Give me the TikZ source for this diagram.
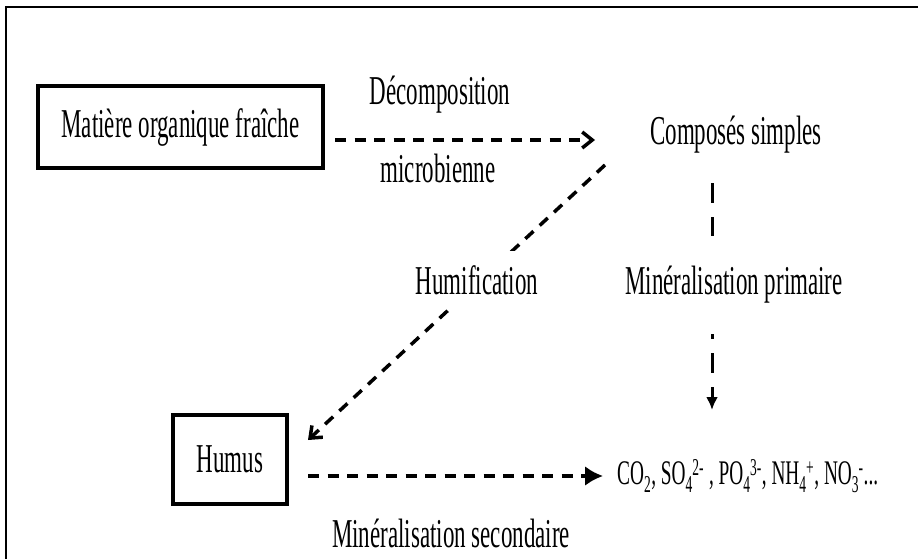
\documentclass[tikz,border=0pt]{standalone}
\usepackage{fontspec}
\setmainfont{Liberation Serif}[FakeStretch=0.56]
\usepackage{amsmath}
\usetikzlibrary{arrows.meta, positioning}

\newcommand{\ionsub}[2]{\textsubscript{#1}\kern-0.5pt\textsuperscript{#2}}

\begin{document}
\begin{tikzpicture}[x=1pt, y=-1pt, font=\fontsize{41}{49}\selectfont]
    \tikzstyle{block} = [rectangle, draw, line width=3.5pt, inner sep=0pt]
    \tikzstyle{dline} = [draw, line width=3.5pt, dash pattern=on 11pt off 8.5pt]
    \tikzstyle{vline} = [draw, line width=3pt, dash pattern=on 20pt off 14pt]
    \tikzstyle{gap} = [fill=white, inner sep=0pt]
    \useasboundingbox (0,0) rectangle (918,559);
    % frame
    \draw [line width=2.5pt] (6,559) -- (6,7) -- (918,7);
    %
    \node [block, minimum width=285pt, minimum height=82pt] (mof) at (180.5,127) {Matière organique fraîche};
    \node (simples) at (736,135) {Composés simples};
    \node [block, minimum width=114pt, minimum height=89pt] (humus) at (230,459.5) {Humus};
    \node [anchor=west, inner sep=0pt, font=\fontsize{34.5}{41}\selectfont] (ions) at (617,476) {CO\textsubscript{2}, SO\ionsub{4}{2-} , PO\ionsub{4}{3-}, NH\ionsub{4}{+}, NO\ionsub{3}{-}...};
    %
    \coordinate (d1) at (335,140);
    \coordinate (d2) at (595,140);
    \path [dline, -{Straight Barb[length=10pt, width=16pt]}] (d1) -- (d2);
    \node (decomp) at (440,95) {Décomposition};
    \node (microb) at (438,168) {microbienne};
    %
    \coordinate (h1) at (605,165);
    \coordinate (h2) at (308,440);
    \path [dline, -{Straight Barb[length=10pt, width=16pt]}] (h1) -- (h2);
    \node [gap, inner xsep=6pt, inner ysep=14pt] (humif) at (477,280) {Humification};
    %
    \coordinate (p1) at (712,183);
    \coordinate (p2) at (712,410);
    \path [vline, -{Latex[length=13pt, width=12pt]}] (p1) -- (p2);
    \node [gap, inner xsep=2pt, inner ysep=30pt] (minp) at (734,285) {Minéralisation primaire};
    %
    \coordinate (s1) at (308,476);
    \coordinate (s2) at (603,476);
    \path [dline, -{Latex[length=18pt, width=20pt]}] (s1) -- (s2);
    \node (mins) at (451,533) {Minéralisation secondaire};
\end{tikzpicture}
\end{document}
